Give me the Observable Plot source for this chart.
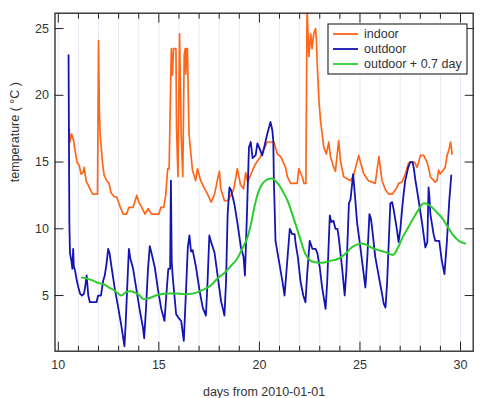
<!DOCTYPE html>
<html><head><meta charset="utf-8">
<script src="https://cdn.jsdelivr.net/npm/d3@7"></script>
<script src="https://cdn.jsdelivr.net/npm/@observablehq/plot@0.6"></script>
<style>body{margin:0;background:#fff}</style>
</head><body><div id="chart"></div>
<script>
// [day, temperature °C]
const indoor = [
[10.54,17.5],[10.58,16.5],[10.66,17.1],[10.76,16.6],[10.83,15.9],[10.93,15.0],[11.05,14.7],[11.13,14.1],[11.23,14.2],[11.29,14.6],
[11.38,13.6],[11.54,13.1],[11.71,12.6],[11.95,12.6],[12.00,24.1],[12.04,19.0],[12.08,17.1],[12.20,14.9],[12.28,14.0],[12.41,13.6],
[12.52,13.4],[12.62,12.7],[12.78,12.4],[12.90,12.4],[13.06,11.7],[13.23,11.1],[13.39,11.1],[13.51,11.6],[13.71,11.6],[13.80,12.0],
[13.90,12.5],[14.00,12.0],[14.15,11.6],[14.31,11.1],[14.47,11.5],[14.64,11.1],[14.88,11.1],[15.00,11.1],[15.10,11.6],[15.24,11.6],
[15.34,12.5],[15.44,14.5],[15.51,14.5],[15.62,23.5],[15.68,21.5],[15.73,23.5],[15.85,23.5],[15.88,17.5],[15.95,13.9],[16.03,24.6],
[16.11,17.0],[16.19,13.9],[16.26,23.0],[16.31,23.5],[16.34,21.6],[16.37,23.5],[16.42,23.5],[16.50,17.1],[16.67,14.4],[16.83,13.6],
[16.92,14.5],[17.08,13.6],[17.24,13.1],[17.42,12.6],[17.60,12.0],[17.77,12.6],[17.93,13.8],[18.01,14.3],[18.08,13.0],[18.26,12.1],
[18.42,12.1],[18.58,12.5],[18.73,13.0],[18.90,14.5],[19.06,13.3],[19.21,13.0],[19.32,14.2],[19.42,13.5],[19.58,14.1],[19.75,14.7],
[19.91,15.1],[20.06,15.4],[20.39,16.5],[20.72,16.5],[20.89,15.6],[21.06,15.4],[21.30,14.6],[21.39,13.9],[21.55,13.4],[21.88,13.4],
[21.96,14.5],[22.13,13.9],[22.21,13.4],[22.31,13.4],[22.37,26.5],[22.46,22.9],[22.55,24.6],[22.62,23.5],[22.70,24.6],[22.79,25.0],
[22.84,24.0],[22.88,22.1],[22.96,19.6],[23.04,18.1],[23.12,17.1],[23.20,16.1],[23.33,15.6],[23.45,16.5],[23.53,15.4],[23.70,14.6],
[23.78,14.3],[23.94,16.6],[24.03,15.1],[24.19,13.9],[24.53,13.6],[24.68,14.0],[24.94,15.5],[25.02,15.0],[25.19,14.1],[25.42,13.6],
[25.76,13.4],[25.94,15.4],[26.10,13.6],[26.27,12.9],[26.43,12.6],[26.61,12.6],[26.84,13.1],[26.92,13.4],[27.09,13.5],[27.25,14.1],
[27.41,14.9],[27.50,15.0],[27.71,15.0],[27.84,14.6],[27.92,15.0],[28.00,15.5],[28.17,15.5],[28.33,15.0],[28.41,14.6],[28.50,13.9],
[28.74,13.5],[28.83,13.6],[28.91,14.4],[28.99,14.1],[29.24,14.6],[29.33,15.5],[29.42,15.9],[29.51,16.5],[29.58,15.6]
];
const outdoor = [
[10.51,23.0],[10.55,10.5],[10.58,8.2],[10.66,7.5],[10.70,7.0],[10.74,8.5],[10.77,7.2],[10.83,6.9],[10.91,6.2],[11.00,5.6],
[11.08,5.15],[11.18,5.0],[11.28,5.15],[11.35,5.8],[11.41,6.5],[11.49,5.0],[11.57,4.5],[11.72,4.5],[11.90,4.5],[11.98,5.0],
[12.12,5.0],[12.23,6.1],[12.31,6.5],[12.40,7.4],[12.48,8.5],[12.55,8.15],[12.65,7.1],[12.82,5.4],[12.98,4.1],[13.15,2.6],
[13.29,1.2],[13.35,2.9],[13.44,6.1],[13.51,8.5],[13.58,7.8],[13.72,7.0],[13.89,5.4],[14.05,3.9],[14.21,2.6],[14.27,1.8],
[14.36,4.0],[14.46,7.0],[14.55,8.7],[14.63,8.2],[14.80,7.1],[14.96,5.4],[15.12,4.0],[15.28,3.1],[15.37,5.0],[15.47,7.0],
[15.56,7.0],[15.60,13.6],[15.64,7.5],[15.69,6.4],[15.86,3.6],[15.99,3.3],[16.11,3.1],[16.24,1.6],[16.34,5.0],[16.44,8.6],
[16.52,9.5],[16.60,8.3],[16.68,8.4],[16.85,7.1],[17.02,5.4],[17.18,4.1],[17.34,3.5],[17.42,6.0],[17.51,9.5],[17.60,9.0],
[17.77,8.2],[17.93,6.4],[18.09,4.6],[18.26,3.5],[18.34,6.0],[18.42,11.1],[18.51,13.1],[18.59,12.9],[18.75,11.9],[18.91,10.4],
[19.08,8.6],[19.21,7.9],[19.28,6.5],[19.38,11.1],[19.48,16.1],[19.57,16.5],[19.66,15.3],[19.81,15.5],[19.90,16.4],[20.01,16.0],
[20.14,15.5],[20.22,16.0],[20.39,17.1],[20.55,18.0],[20.64,17.4],[20.69,16.6],[20.72,13.6],[20.80,9.1],[20.97,7.6],[21.14,6.1],
[21.25,5.0],[21.38,7.5],[21.51,10.0],[21.63,9.6],[21.75,9.6],[21.80,8.9],[21.91,7.9],[22.04,6.1],[22.18,5.0],[22.29,4.5],
[22.37,6.5],[22.50,9.1],[22.63,8.5],[22.79,8.5],[22.88,8.2],[23.00,7.1],[23.12,5.6],[23.29,4.0],[23.37,6.0],[23.50,11.0],
[23.58,10.5],[23.68,10.6],[23.78,10.0],[23.88,10.0],[23.94,9.4],[24.11,7.1],[24.24,5.0],[24.33,7.0],[24.45,11.9],[24.53,12.2],
[24.66,14.1],[24.75,12.5],[24.86,10.4],[25.02,8.6],[25.27,5.6],[25.37,8.0],[25.47,11.1],[25.54,10.8],[25.60,10.1],[25.76,7.9],
[25.94,6.4],[26.10,5.1],[26.18,4.4],[26.27,4.1],[26.35,6.0],[26.51,11.9],[26.60,12.0],[26.68,11.4],[26.84,9.9],[26.92,9.0],
[27.01,10.0],[27.09,11.4],[27.17,12.6],[27.25,13.6],[27.40,14.6],[27.50,15.0],[27.61,15.0],[27.67,14.6],[27.76,13.6],[27.92,12.1],
[28.09,10.4],[28.25,8.6],[28.35,9.0],[28.41,13.1],[28.45,12.5],[28.50,11.1],[28.66,9.6],[28.74,9.1],[28.83,9.1],[28.94,9.1],
[29.07,7.6],[29.20,6.6],[29.32,9.0],[29.44,12.1],[29.54,14.0]
];
const outdoorShifted = [
[11.18,6.35],[11.48,6.25],[11.77,6.1],[11.97,5.95],[12.26,5.85],[12.52,5.6],[12.77,5.4],[12.97,5.15],[13.15,5.0],[13.31,5.2],
[13.46,5.3],[13.66,5.3],[13.85,5.2],[14.05,5.0],[14.21,4.75],[14.41,4.75],[14.60,4.85],[14.85,5.0],[15.10,5.1],[15.39,5.15],
[15.85,5.15],[16.34,5.1],[16.83,5.2],[17.23,5.45],[17.58,5.75],[17.93,6.3],[18.27,6.7],[18.57,7.2],[18.87,7.7],[19.11,8.4],
[19.37,9.2],[19.57,10.3],[19.76,11.7],[19.96,12.8],[20.16,13.4],[20.40,13.7],[20.65,13.75],[20.96,13.3],[21.20,12.7],[21.40,12.1],
[21.70,10.8],[22.04,9.2],[22.29,8.1],[22.55,7.6],[22.79,7.5],[23.04,7.45],[23.29,7.5],[23.53,7.6],[23.83,7.7],[24.08,7.9],
[24.33,8.2],[24.58,8.6],[24.83,8.8],[25.07,8.9],[25.32,8.8],[25.56,8.6],[25.92,8.4],[26.27,8.25],[26.66,8.05],[26.86,8.5],
[27.10,9.3],[27.40,10.1],[27.66,10.8],[27.90,11.4],[28.15,11.9],[28.35,11.85],[28.59,11.6],[28.84,11.2],[29.09,10.8],[29.34,10.2],
[29.59,9.6],[29.84,9.2],[30.03,9.0],[30.23,8.9]
];
const seriesNames = ["indoor", "outdoor", "outdoor + 0.7 day"];
const seriesColors = ["#ff6619", "#1414b4", "#2ccc2c"];
const xMajorTicks = [10, 15, 20, 25, 30];
const xMinorTicks = [11,12,13,14,16,17,18,19,21,22,23,24,26,27,28,29];
const xGridDays = [10,11,12,13,14,15,16,17,18,19,20,21,22,23,24,25,26,27,28,29,30];
const yTicks = [5, 10, 15, 20, 25];
const xLabel = "days from 2010-01-01";
const yLabel = "temperature ( °C )";

const fontFamily = "'Liberation Sans', Arial, Helvetica, sans-serif";
const ink = "#333";
const plot = Plot.plot({
  width: 500, height: 398,
  marginLeft: 54.5, marginRight: 27.3, marginTop: 12.7, marginBottom: 47.3,
  x: {domain: [9.836, 30.63], label: null},
  y: {domain: [0.83, 26.15], label: null},
  style: {fontFamily, fontSize: "12.5px", color: ink, background: "#fff", overflow: "visible"},
  marks: [
    Plot.ruleX(xGridDays, {stroke: "#e8e9f7", strokeWidth: 1}),
    Plot.line(indoor, {x: d => d[0], y: d => d[1], stroke: seriesColors[0], strokeWidth: 1.7, clip: true}),
    Plot.line(outdoor, {x: d => d[0], y: d => d[1], stroke: seriesColors[1], strokeWidth: 1.8, clip: true}),
    Plot.line(outdoorShifted, {x: d => d[0], y: d => d[1], stroke: seriesColors[2], strokeWidth: 2, curve: "catmull-rom", clip: true}),
    Plot.frame({stroke: "#222", strokeWidth: 1.3}),
    Plot.axisX({ticks: xMajorTicks, anchor: "bottom", tickSize: -9, tickPadding: 18, label: null, stroke: "#222", fill: ink}),
    Plot.axisX({ticks: xMajorTicks, anchor: "top", tickSize: -9, tickFormat: () => "", label: null, stroke: "#222"}),
    Plot.axisX({ticks: xMinorTicks, anchor: "bottom", tickSize: -5, tickFormat: () => "", label: null, stroke: "#222"}),
    Plot.axisX({ticks: xMinorTicks, anchor: "top", tickSize: -5, tickFormat: () => "", label: null, stroke: "#222"}),
    Plot.axisY({ticks: yTicks, anchor: "left", tickSize: -9, tickPadding: 15, label: null, stroke: "#222", fill: ink}),
    Plot.axisY({ticks: yTicks, anchor: "right", tickSize: -9, tickFormat: () => "", label: null, stroke: "#222"}),
    Plot.text([xLabel], {frameAnchor: "bottom", dy: 40.3, lineAnchor: "middle", fill: ink}),
    Plot.text([yLabel], {frameAnchor: "left", dx: -40.5, rotate: -90, fill: ink})
  ]
});

const svg = d3.select(plot);
const lg = svg.append("g").attr("font-family", fontFamily).attr("font-size", 12.5).attr("text-anchor", "start");
lg.append("rect").attr("x", 328).attr("y", 24).attr("width", 139).attr("height", 50)
  .attr("fill", "#fff").attr("stroke", "#333").attr("stroke-width", 1.2);
seriesNames.forEach((name, i) => {
  const y = 34 + i * 15;
  lg.append("line").attr("x1", 333).attr("x2", 358).attr("y1", y).attr("y2", y)
    .attr("stroke", seriesColors[i]).attr("stroke-width", 1.8);
  lg.append("text").attr("x", 364).attr("y", y).attr("dy", "0.35em").attr("fill", ink)
    .attr("text-anchor", "start").text(name);
});
document.getElementById("chart").appendChild(plot);
</script>
</body></html>
